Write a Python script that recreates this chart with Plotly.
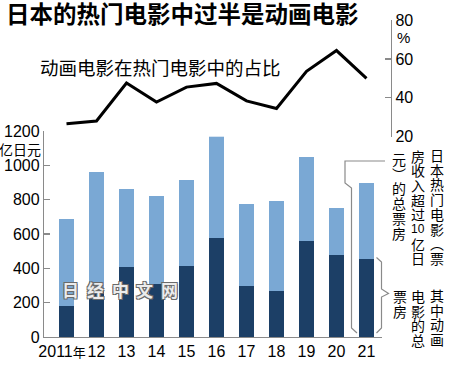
import plotly.graph_objects as go

# ---- data ----
years = ["2011<span style='font-size:13px'>年</span>\u00a0\u00a0", "12", "13", "14", "15",
         "16", "17", "18", "19", "20", "21"]
total_box = [690, 963, 860, 823, 913, 1194, 777, 790, 1048, 750, 899]   # 亿日元
anime_box = [183, 270, 408, 310, 416, 579, 297, 270, 559, 478, 453]     # 亿日元
anime_share = [26.6, 28.1, 47.6, 37.8, 45.5, 47.4, 38.4, 34.5, 53.6, 64.3, 50.0]  # %
left_ticks = [0, 200, 400, 600, 800, 1000, 1200]
right_ticks = [20, 40, 60, 80]

W, H = 450, 366
L, R, T, B = 44, 59, 20, 29
PW, PH = W - L - R, H - T - B


def px(x):
    return (x - L) / PW


def py(y):
    return (H - B - y) / PH


LIGHT = "#7aa8d4"
DARK = "#1c3f66"
GRAY = "#8a8a8a"
CJK = "Noto Sans CJK SC"
NUM = "Liberation Sans, Arial, sans-serif"

xs = list(range(len(years)))
rest = [t - a for t, a in zip(total_box, anime_box)]

fig = go.Figure()
fig.add_trace(go.Bar(x=xs, y=anime_box, marker=dict(color=DARK, line=dict(width=0)),
                     width=0.5, yaxis="y", hoverinfo="skip"))
fig.add_trace(go.Bar(x=xs, y=rest, marker=dict(color=LIGHT, line=dict(width=0)),
                     width=0.5, yaxis="y", hoverinfo="skip"))
fig.add_trace(go.Scatter(x=xs, y=anime_share, mode="lines", yaxis="y2",
                         line=dict(color="black", width=3), hoverinfo="skip"))

annotations = []

# y-axis units
annotations.append(dict(text="亿日元", xref="paper", x=px(43), xanchor="right",
                        yref="paper", y=py(149), yanchor="middle", showarrow=False,
                        font=dict(family=CJK, size=14, color="black")))
annotations.append(dict(text="%", xref="paper", x=px(403), xanchor="center",
                        yref="paper", y=py(37), yanchor="middle", showarrow=False,
                        font=dict(family=NUM, size=15, color="black")))
# line label
annotations.append(dict(text="动画电影在热门电影中的占比", xref="paper", x=px(38), xanchor="left",
                        yref="paper", y=py(67), yanchor="middle", showarrow=False,
                        font=dict(family=CJK, size=18.5, color="black")))


def vcol(cells, xc, y0, pitch=14.7, size=14):
    for i, c in enumerate(cells):
        s = 12 if c.isdigit() or len(c) > 1 else size
        annotations.append(dict(text=c, xref="paper", x=px(xc), xanchor="center",
                                yref="paper", y=py(y0 + i * pitch), yanchor="middle",
                                showarrow=False,
                                font=dict(family=CJK if not c.isdigit() else NUM,
                                          size=s, color="black")))


# legend-like vertical texts
vcol(["日", "本", "热", "门", "电", "影", "︵", "票"], 436.7, 155)
vcol(["房", "收", "入", "超", "过", "10", "亿", "日"], 418.3, 155.5)
vcol(["元", "︶", "的", "总", "票", "房"], 399, 159)
vcol(["其", "中", "动", "画"], 436.7, 295)
vcol(["电", "影", "的", "总"], 418.3, 296)
vcol(["票", "房"], 400, 296)

# watermark
for i, c in enumerate("日经中文网"):
    annotations.append(dict(text=c, xref="paper", x=px(70.6 + i * 24.7), xanchor="center",
                            yref="paper", y=py(289.5), yanchor="middle", showarrow=False,
                            font=dict(family=CJK, size=17, color="#ececec", weight="bold",
                                      shadow="1px 1px 0 #6a6a6a, -1px -1px 0 #6a6a6a, 1px -1px 0 #6a6a6a, -1px 1px 0 #6a6a6a")))


def path(points):
    return "M " + " L ".join(f"{px(a)},{py(b)}" for a, b in points)


shapes = [
    dict(type="path", xref="paper", yref="paper",
         path=path([(385, 161), (345, 161), (345, 183), (351.5, 188), (351.5, 328), (357, 333)]),
         line=dict(color=GRAY, width=1.2)),
    dict(type="path", xref="paper", yref="paper",
         path=path([(376.5, 257.5), (381.5, 262), (381.5, 289), (388.5, 293.5),
                    (381.5, 297), (381.5, 328), (376.5, 333)]),
         line=dict(color=GRAY, width=1.2)),
]

fig.update_layout(
    width=W, height=H,
    margin=dict(l=L, r=R, t=T, b=B, pad=0, autoexpand=False),
    paper_bgcolor="white", plot_bgcolor="white",
    barmode="stack", bargap=0, showlegend=False,
    font=dict(family=NUM, size=16, color="black"),
    title=dict(text="日本的热门电影中过半是动画电影", xref="container", yref="container",
               x=6 / W, xanchor="left", y=1 - 15 / H, yanchor="middle", automargin=False,
               font=dict(family=CJK, size=23.5, color="black", weight="bold")),
    xaxis=dict(range=[-0.75, -0.75 + (382 - L) / 30], domain=[0, (382 - L) / PW],
               tickmode="array", tickvals=xs, ticktext=years, tickangle=0, automargin=False,
               showline=True, linecolor=GRAY, linewidth=1.2, ticks="", ticklen=0,
               showgrid=False, zeroline=False,
               tickfont=dict(family=NUM + ", " + CJK, size=16, color="black")),
    yaxis=dict(range=[0, 1200], domain=[0, 0.65], tickmode="array", tickvals=left_ticks,
               automargin=False,
               showline=True, linecolor=GRAY, linewidth=1.2, ticks="inside",
               ticklen=6, tickcolor=GRAY, tickwidth=1.2, showgrid=False, zeroline=False,
               tickfont=dict(family=NUM, size=16, color="black")),
    yaxis2=dict(range=[20, 80], domain=[py(136.7), 1], anchor="free", position=1,
                side="right", tickmode="array", tickvals=right_ticks, automargin=False,
                showline=True, linecolor=GRAY, linewidth=1.2, ticks="inside",
                ticklen=6, tickcolor=GRAY, tickwidth=1.2, showgrid=False, zeroline=False,
                tickfont=dict(family=NUM, size=16, color="black")),
    annotations=annotations,
    shapes=shapes,
)

fig.write_html("out.html", config={"displayModeBar": False, "staticPlot": True},
               post_script="document.body.style.margin='0';document.body.style.overflow='hidden';")
